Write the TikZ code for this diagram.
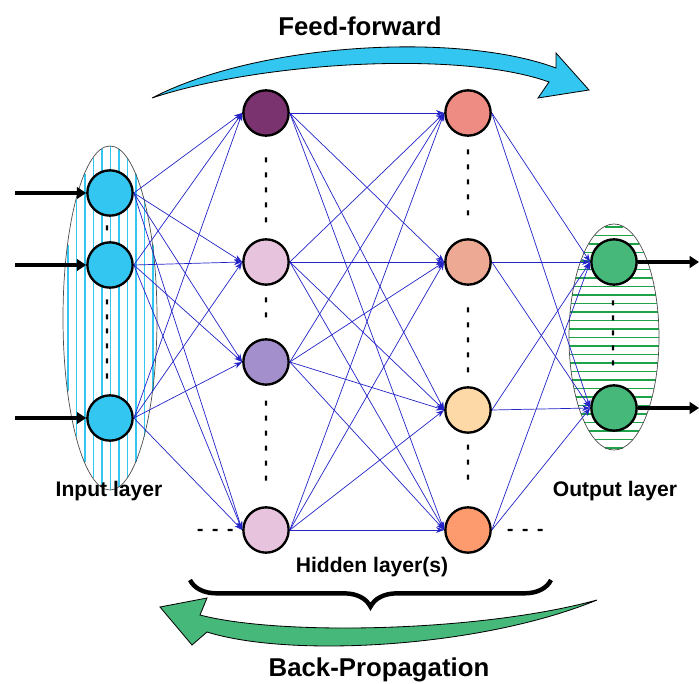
\documentclass[tikz,border=0pt]{standalone}
\usepackage{fontspec}
\setmainfont{Liberation Sans}
\usetikzlibrary{arrows.meta,decorations.pathreplacing}
\definecolor{inblue}{HTML}{33C6F0}
\definecolor{outgreen}{HTML}{46B87A}
\definecolor{hatchgreen}{HTML}{1FA34A}
\definecolor{linkblue}{HTML}{2323C8}
\definecolor{hpurple}{HTML}{7B3370}
\definecolor{hpink}{HTML}{E8C3DD}
\definecolor{hlav}{HTML}{A38FCB}
\definecolor{hsalmon}{HTML}{EE8C84}
\definecolor{hrose}{HTML}{EDA994}
\definecolor{hpeach}{HTML}{FDD9A8}
\definecolor{horange}{HTML}{FD9A6E}
\begin{document}
\begin{tikzpicture}[x=0.03cm,y=-0.03cm,
  neuron/.style={circle,draw=black,line width=2pt,minimum size=1.36cm,inner sep=0pt},
  link/.style={draw=linkblue,line width=0.6pt,-{Stealth[length=7pt,width=5pt]}},
  iolink/.style={draw=black,line width=3.2pt,-{Triangle[length=8pt,width=10pt]}},
  laytext/.style={font=\bfseries\fontsize{18}{20}\selectfont},
  bigtext/.style={font=\bfseries\fontsize{22}{24}\selectfont}]
\useasboundingbox (0,0) rectangle (699,684);
% layer ellipses with hatching
\foreach \k in {-5,...,5} {
  \pgfmathsetmacro{\hh}{172*sqrt(1-(8.5*\k/47)^2)}
  \draw[inblue,line width=1.2pt] (110.5+8.5*\k,318-\hh) -- (110.5+8.5*\k,318+\hh);}
\draw[gray!60!black,line width=0.6pt] (110,318) ellipse (47 and 172);
\foreach \k in {-13,...,13} {
  \pgfmathsetmacro{\ww}{45*sqrt(1-(8.5*\k/113)^2)}
  \draw[hatchgreen,line width=1.2pt] (614-\ww,337.5+8.5*\k) -- (614+\ww,337.5+8.5*\k);}
\draw[gray!60!black,line width=0.6pt] (614,337) ellipse (45 and 113);
% dots
\fill \foreach \y in {228,302,317,331,346,361,376} {(107,\y) ++(-1.2,-2.5) rectangle ++(2.4,5)};
\fill \foreach \y in {160,175,190,205,220,300,315,403,418,433,448,463,478} {(266,\y) ++(-1.2,-2.5) rectangle ++(2.4,5)};
\fill \foreach \y in {152,167,182,197,213,310,325,340,355,370,447,462,477} {(468,\y) ++(-1.2,-2.5) rectangle ++(2.4,5)};
\fill \foreach \y in {303,318,333,348,363} {(613,\y) ++(-1.2,-2.5) rectangle ++(2.4,5)};
\fill \foreach \x in {200,215,230,510,525,540} {(\x,530) ++(-2.5,-1.2) rectangle ++(5,2.4)};
% neurons
\node[neuron,fill=inblue] (in1) at (110,193) {};
\node[neuron,fill=inblue] (in2) at (110,265) {};
\node[neuron,fill=inblue] (in3) at (110,418) {};
\node[neuron,fill=hpurple] (ha1) at (266,113) {};
\node[neuron,fill=hpink] (ha2) at (266,262) {};
\node[neuron,fill=hlav] (ha3) at (266,362) {};
\node[neuron,fill=hpink] (ha4) at (266,530) {};
\node[neuron,fill=hsalmon] (hb1) at (468,113) {};
\node[neuron,fill=hrose] (hb2) at (468,262) {};
\node[neuron,fill=hpeach] (hb3) at (468,410) {};
\node[neuron,fill=horange] (hb4) at (468,530) {};
\node[neuron,fill=outgreen] (out1) at (614,262) {};
\node[neuron,fill=outgreen] (out2) at (614,408) {};
% connections
\foreach \i in {1,2,3} \foreach \j in {1,...,4} \draw[link] (in\i.east) -- (ha\j.west);
\foreach \i in {1,...,4} \foreach \j in {1,...,4} \draw[link] (ha\i.east) -- (hb\j.west);
\foreach \i in {1,...,4} \foreach \j in {1,2} \draw[link] (hb\i.east) -- (out\j.west);
% inputs and outputs
\foreach \i/\y in {1/193,2/265,3/418} {
  \coordinate (src\i) at (15,\y);
  \draw[iolink] (src\i) -- (in\i.west);}
\foreach \i/\y in {1/262,2/408} {
  \coordinate (dst\i) at (699,\y);
  \draw[iolink] (out\i.east) -- (dst\i);}
% labels
\node[laytext] (inlab) at (109,491) {Input layer};
\node[laytext] (outlab) at (615,491) {Output layer};
\node[laytext] (hidlab) at (372,567) {Hidden layer(s)};
\node[bigtext] (fflab) at (360,26) {Feed-forward};
\node[bigtext] (bplab) at (379,670) {Back-Propagation};
% brace
\coordinate (brl) at (190,580);
\coordinate (brr) at (551,580);
\draw[line width=3.8pt,decorate,decoration={brace,mirror,amplitude=0.8cm,aspect=0.5}] (brl) -- (brr);
% fat arrows
\draw[fill=inblue,line width=0.7pt] (152,98) .. controls (260,42) and (460,32) .. (556,68)
  -- (556,53) -- (589,90) -- (538,98) -- (549,82)
  .. controls (460,50) and (260,62) .. cycle;
\draw[fill=outgreen,line width=0.7pt] (597,600) .. controls (480,632) and (280,636) .. (200,615)
  -- (207,598) -- (160,607) -- (192,645) -- (207,632)
  .. controls (290,658) and (480,648) .. cycle;
\end{tikzpicture}
\end{document}
